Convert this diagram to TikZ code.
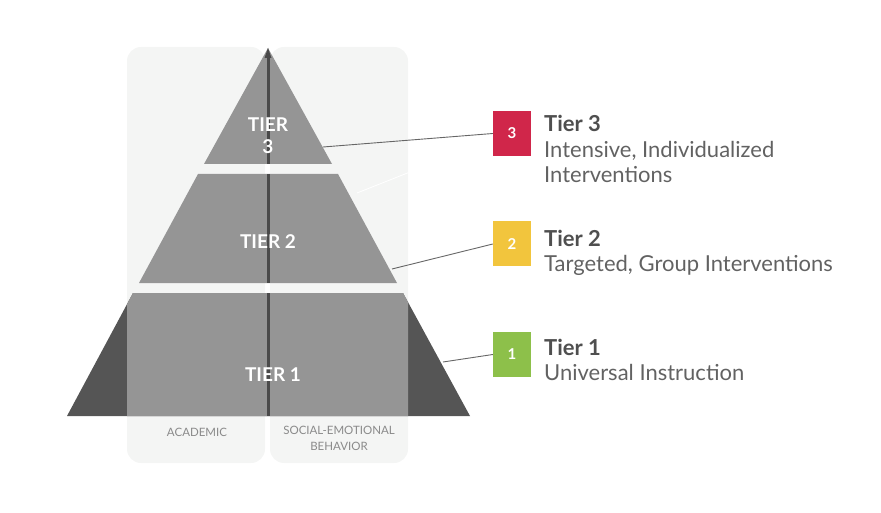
\documentclass[tikz,border=0pt]{standalone}
\usepackage{fontspec}
\setmainfont{Lato}
\usetikzlibrary{positioning}
\definecolor{panelgray}{HTML}{F4F5F4}
\definecolor{midgray}{HTML}{959595}
\definecolor{darkgray}{HTML}{555555}
\definecolor{axisgray}{HTML}{4A4A4A}
\definecolor{textgray}{HTML}{4F4F4F}
\definecolor{descgray}{HTML}{626262}
\definecolor{labelgray}{HTML}{8A8A8A}
\definecolor{tierred}{HTML}{D0264A}
\definecolor{tieryellow}{HTML}{F2C53D}
\definecolor{tiergreen}{HTML}{8DC04A}
\tikzset{
  rtpanel/.style={fill=panelgray, draw=none, rounded corners=14pt},
  rttier/.style={fill=midgray, draw=none},
  rtlabel/.style={text=white, font=\bfseries\fontsize{19}{22}\selectfont, align=center, inner sep=0pt},
  rtcol/.style={text=labelgray, font=\fontsize{11.5}{16}\selectfont, align=center, inner sep=0pt},
  rtbox/.style={draw=none, minimum width=38pt, minimum height=45pt, inner sep=0pt,
    text=white, font=\bfseries\fontsize{15}{15}\selectfont},
  rthead/.style={anchor=base west, inner sep=0pt, text=textgray, font=\bfseries\fontsize{22}{25}\selectfont},
  rtdesc/.style={anchor=base west, inner sep=0pt, text=descgray, align=left, font=\fontsize{22}{25}\selectfont},
  rtlink/.style={draw=gray!80!black, line width=0.9pt}
}
\begin{document}
\begin{tikzpicture}[x=1pt, y=-1pt]
  \useasboundingbox (0,0) rectangle (881,513);
  % column panels
  \fill[rtpanel] (127,47) rectangle (265,463);
  \fill[rtpanel] (270,47) rectangle (408,463);
  % tiers
  \fill[rttier] (268,48) -- (332,164) -- (204,164) -- cycle;
  \fill[rttier] (198,174) -- (338,174) -- (397,283) -- (139,283) -- cycle;
  \fill[darkgray] (133,293) -- (403,293) -- (470,416) -- (67,416) -- cycle;
  \begin{scope}
    \clip (127,280) rectangle (408,420);
    \fill[rttier] (133,293) -- (403,293) -- (470,416) -- (67,416) -- cycle;
  \end{scope}
  % centre axis
  \draw[axisgray, line width=3pt] (268,58) -- (268,164);
  \fill[axisgray] (268,48) -- (271.5,58) -- (264.5,58) -- cycle;
  \draw[axisgray, line width=3pt] (268,174) -- (268,283);
  \draw[axisgray, line width=3pt] (268,293) -- (268,416);
  % faint line
  \draw[white, line width=0.8pt] (357,193) -- (410,172);
  % tier labels
  \node[rtlabel] (tier3) at (268,136) {TIER\\3};
  \node[rtlabel] (tier2) at (268,242) {TIER 2};
  \node[rtlabel] (tier1) at (273,375) {TIER 1};
  \node[rtcol] (acad) at (197,432) {ACADEMIC};
  \node[rtcol] (seb) at (339,438) {SOCIAL-EMOTIONAL\\BEHAVIOR};
  % legend
  \node[rtbox, fill=tierred] (b3) at (512,133.5) {3};
  \node[rtbox, fill=tieryellow] (b2) at (512,244) {2};
  \node[rtbox, fill=tiergreen] (b1) at (512,354.5) {1};
  \node[rthead] (h3) at (544,132) {Tier 3};
  \node[rtdesc] (d3) at (544,183) {Intensive, Individualized\\Interventions};
  \node[rthead] (h2) at (544,247) {Tier 2};
  \node[rtdesc] (d2) at (544,272) {Targeted, Group Interventions};
  \node[rthead] (h1) at (544,355) {Tier 1};
  \node[rtdesc] (d1) at (544,380) {Universal Instruction};
  % connectors
  \coordinate (e3) at (323,147);
  \coordinate (e2) at (392,269);
  \coordinate (e1) at (443,362);
  \draw[rtlink] (e3) -- (b3.west);
  \draw[rtlink] (e2) -- (b2.west);
  \draw[rtlink] (e1) -- (b1.west);
\end{tikzpicture}
\end{document}
